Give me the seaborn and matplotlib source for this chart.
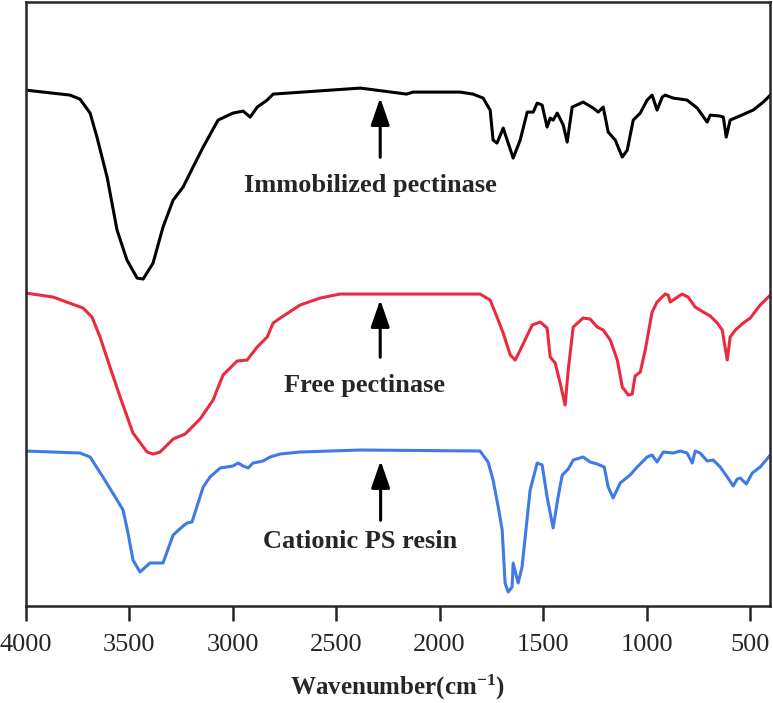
import numpy as np
import pandas as pd
import matplotlib
matplotlib.use('Agg')
import matplotlib.pyplot as plt
import seaborn as sns

# ===============================
# Data (transmittance in a.u. with offsets)
# ===============================
immob_wn = [4000, 3785, 3737, 3688, 3655, 3606, 3558, 3510, 3461, 3432, 3384, 3336, 3287,
            3239, 3191, 3142, 3070, 2998, 2949, 2915, 2881, 2833, 2804, 2383, 2160, 2128,
            1901, 1839, 1790, 1756, 1742, 1723, 1693, 1645, 1611, 1577, 1548, 1529, 1505,
            1481, 1466, 1452, 1432, 1403, 1384, 1360, 1307, 1258, 1234, 1210, 1186, 1152,
            1118, 1094, 1065, 1031, 998, 974, 950, 925, 911, 872, 805, 756, 708, 693, 645,
            630, 616, 597, 563, 486, 437, 403]
immob_t = [516, 511, 507, 493, 469, 429, 376, 346, 328, 327, 343, 379, 406,
           419, 439, 459, 486, 493, 495, 489, 499, 506, 512, 518, 512, 514,
           514, 512, 508, 496, 466, 463, 478, 448, 466, 494, 494, 503, 501,
           479, 488, 486, 493, 481, 464, 499, 504, 498, 494, 499, 474, 466,
           449, 456, 486, 493, 506, 511, 496, 509, 511, 508, 506, 498, 484, 491, 490,
           489, 469, 486, 489, 496, 504, 511]

free_wn = [4000, 3867, 3722, 3679, 3640, 3592, 3543, 3481, 3413, 3384, 3350, 3287, 3229,
           3157, 3094, 3046, 2978, 2930, 2881, 2833, 2804, 2770, 2674, 2577, 2481, 1805,
           1756, 1723, 1693, 1659, 1635, 1611, 1553, 1514, 1481, 1466, 1442, 1418, 1394,
           1379, 1355, 1307, 1273, 1239, 1210, 1176, 1142, 1118, 1089, 1070, 1056, 1031,
           1007, 974, 950, 911, 896, 887, 829, 800, 766, 727, 693, 659, 635, 625, 611,
           597, 572, 534, 500, 452, 403]
free_t = [313, 309, 298, 289, 269, 239, 209, 173, 154, 152, 154, 167, 172,
          187, 206, 231, 245, 246, 259, 269, 283, 288, 301, 308, 312, 312,
          306, 289, 273, 251, 246, 256, 281, 284, 278, 249, 243, 223, 201,
          236, 279, 288, 287, 279, 276, 266, 246, 219, 211, 212, 230, 234,
          256, 294, 304, 312, 311, 304, 312, 309, 299, 294, 290, 283, 276, 263, 246,
          269, 276, 283, 288, 301, 311]

resin_wn = [4000, 3737, 3688, 3626, 3558, 3529, 3505, 3481, 3447, 3399, 3365, 3336, 3287,
            3239, 3220, 3196, 3142, 3109, 3060, 2998, 2973, 2949, 2925, 2901, 2853, 2819,
            2770, 2674, 2384, 1805, 1766, 1742, 1717, 1698, 1684, 1669, 1650, 1645, 1621,
            1602, 1563, 1529, 1505, 1481, 1452, 1428, 1408, 1379, 1355, 1307, 1273, 1239,
            1205, 1186, 1162, 1128, 1080, 1046, 998, 974, 950, 920, 872, 838, 805, 780,
            766, 742, 708, 679, 645, 611, 582, 563, 548, 519, 490, 452, 403]
resin_t = [155, 153, 149, 129, 106, 96, 73, 46, 34, 43, 43, 43, 71,
           80, 83, 84, 119, 129, 138, 140, 143, 140, 138, 143, 145, 149,
           152, 154, 156, 155, 144, 126, 99, 76, 23, 14, 19, 43, 23,
           39, 116, 143, 141, 109, 78, 109, 131, 137, 146, 149, 144, 142,
           139, 119, 108, 123, 131, 139, 149, 151, 144, 154, 153, 155, 153, 143,
           155, 153, 145, 146, 139, 129, 120, 127, 128, 122, 133, 139, 151]

samples = ['Immobilized pectinase', 'Free pectinase', 'Cationic PS resin']
colors = ['#000000', '#ec2a3f', '#3f7ae6']

# label placement (wavenumber, arrow tip, arrow tail, text baseline)
arrow_wn = [2287, 2287, 2285]
arrow_tip = [511, 309, 148]
arrow_tail = [446, 246, 83]
text_wn = [2333, 2365, 2384]
text_t = [414, 214, 58]

df = pd.concat([
    pd.DataFrame({'wn': immob_wn, 't': immob_t, 'sample': samples[0]}),
    pd.DataFrame({'wn': free_wn, 't': free_t, 'sample': samples[1]}),
    pd.DataFrame({'wn': resin_wn, 't': resin_t, 'sample': samples[2]}),
])

# ===============================
# Plot
# ===============================
sns.set_style('ticks')
plt.rcParams['font.family'] = ['Liberation Serif', 'DejaVu Serif']
plt.rcParams['mathtext.fontset'] = 'custom'
plt.rcParams['mathtext.rm'] = 'Liberation Serif:bold'
plt.rcParams['mathtext.default'] = 'rm'

fig = plt.figure(figsize=(7.73, 7.03), dpi=100)
ax = fig.add_axes([0.033, 0.138, 0.963, 0.859])

sns.lineplot(data=df, x='wn', y='t', hue='sample', palette=colors, sort=False,
             estimator=None, linewidth=2.2, legend=False, ax=ax)

for i, name in enumerate(samples):
    ax.annotate('', xy=(arrow_wn[i], arrow_tip[i]), xytext=(arrow_wn[i], arrow_tail[i]),
                arrowprops=dict(arrowstyle='-|>,head_length=0.75,head_width=0.26',
                                color='black', lw=2.2, mutation_scale=22))
    ax.text(text_wn[i], text_t[i], name, ha='center', va='baseline',
            fontsize=19, fontweight='bold')

ax.set_xlim(4000, 405)
ax.set_ylim(0, 604)
ax.set_xticks([4000, 3500, 3000, 2500, 2000, 1500, 1000, 500])
ax.set_yticks([])
ax.set_xlabel('Wavenumber(cm$^{-1}$)', fontsize=18, fontweight='bold', labelpad=12)
ax.set_ylabel('')
ax.tick_params(axis='x', direction='out', length=11, width=1.8, labelsize=19, pad=9)
for sp in ax.spines.values():
    sp.set_linewidth(1.8)
    sp.set_visible(True)

plt.savefig('out.png', dpi=100)
